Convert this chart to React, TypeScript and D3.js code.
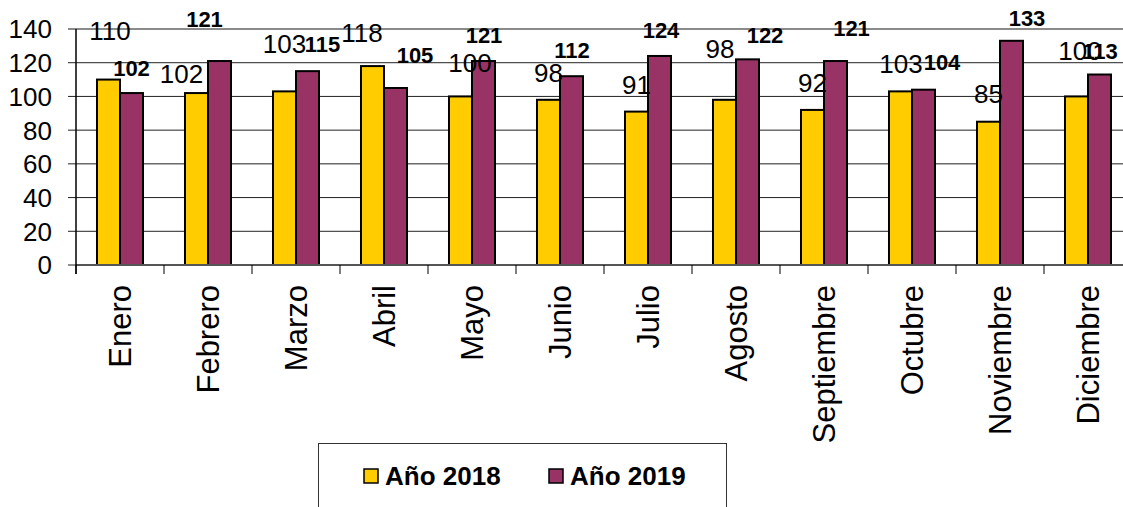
import React from "react";
import * as d3 from "d3";

const months = ["Enero", "Febrero", "Marzo", "Abril", "Mayo", "Junio", "Julio", "Agosto", "Septiembre", "Octubre", "Noviembre", "Diciembre"];
const series = ["Año 2018", "Año 2019"];
const values2018 = [110, 102, 103, 118, 100, 98, 91, 98, 92, 103, 85, 100];
const values2019 = [102, 121, 115, 105, 121, 112, 124, 122, 121, 104, 133, 113];
const yTicks = [0, 20, 40, 60, 80, 100, 120, 140];

// manual label nudges (as placed in the original chart)
const nudge2018 = [[1.5, -40], [-15, -10], [0, -38], [-10.5, -24], [9.5, -24], [0, -18], [0, -18], [-4.5, -42], [0, -18], [0.5, -18], [0, -19], [3.5, -36]];
const nudge2019 = [[0, -17], [-15, -34], [15, -19], [19.5, -25], [0.5, -18], [0.5, -18], [1.5, -18], [17.5, -16], [16, -25], [18.5, -20], [15.5, -15], [0.5, -15.5]];

const colors = ["#FFCC00", "#993366"];
const W = 1123, H = 507;
const left = 76, top = 29, bottom = 265, right = 76 + 12 * 88;

export default function App() {
  const x0 = d3.scaleBand<string>().domain(months).range([left, right]).padding(0);
  const x1 = d3.scaleBand<string>().domain(series).range([0, x0.bandwidth()]).paddingInner(0).paddingOuter(0.913);
  const y = d3.scaleLinear().domain([0, 140]).range([bottom, top]);
  const data = [values2018, values2019];
  const nudges = [nudge2018, nudge2019];
  const font = "Arial, 'Liberation Sans', sans-serif";

  return (
    <svg width={W} height={H} style={{ position: "absolute", left: 0, top: 0, background: "#fff" }} fontFamily={font}>
      {/* gridlines */}
      {yTicks.map((t) => (
        <line key={"g" + t} x1={left - 8} x2={W} y1={y(t)} y2={y(t)} stroke={t === 140 ? "#8a8a8a" : "#222"} strokeWidth={t === 140 ? 2 : 1} />
      ))}
      {/* y tick labels */}
      {yTicks.map((t) => (
        <text key={"yl" + t} x={52} y={y(t)} dy="0.36em" textAnchor="end" fontSize={26} fill="#000">{t}</text>
      ))}
      {/* bars */}
      {months.map((m, i) => (
        <g key={m}>
          {series.map((s, k) => (
            <rect key={s} x={(x0(m) as number) + (x1(s) as number)} y={y(data[k][i])} width={x1.bandwidth()} height={bottom - y(data[k][i])} fill={colors[k]} stroke="#000" strokeWidth={2} />
          ))}
        </g>
      ))}
      {/* x axis */}
      <line x1={left} x2={W} y1={bottom} y2={bottom} stroke="#555" strokeWidth={2} />
      {months.map((m) => (
        <line key={"xt" + m} x1={x0(m) as number} x2={x0(m) as number} y1={bottom} y2={bottom + 9} stroke="#000" strokeWidth={1} />
      ))}
      {/* y axis */}
      <line x1={left} x2={left} y1={top} y2={bottom + 9} stroke="#000" strokeWidth={1.5} />
      {/* category labels */}
      {months.map((m) => {
        const cx = (x0(m) as number) + x0.bandwidth() / 2;
        return (
          <text key={"cl" + m} transform={`translate(${cx},285) rotate(-90)`} dy="0.36em" textAnchor="end" fontSize={31} fill="#000">{m}</text>
        );
      })}
      {/* data labels */}
      {months.map((m, i) =>
        series.map((s, k) => {
          const cx = (x0(m) as number) + (x1(s) as number) + x1.bandwidth() / 2 + nudges[k][i][0];
          const by = y(data[k][i]) + nudges[k][i][1];
          return (
            <text key={"dl" + m + s} x={cx} y={by} textAnchor="middle" fontSize={k === 0 ? 26 : 22} fontWeight={k === 0 ? "normal" : "bold"} fill="#000">{data[k][i]}</text>
          );
        })
      )}
      {/* legend */}
      <rect x={318.5} y={443.5} width={408} height={80} fill="#fff" stroke="#333" strokeWidth={1} />
      {series.map((s, k) => {
        const lx = k === 0 ? 364 : 549;
        return (
          <g key={"lg" + s}>
            <rect x={lx} y={469} width={14} height={14} fill={colors[k]} stroke="#000" strokeWidth={1.5} />
            <text x={lx + 21} y={485} fontSize={26} fontWeight="bold" fill="#000">{s}</text>
          </g>
        );
      })}
    </svg>
  );
}
